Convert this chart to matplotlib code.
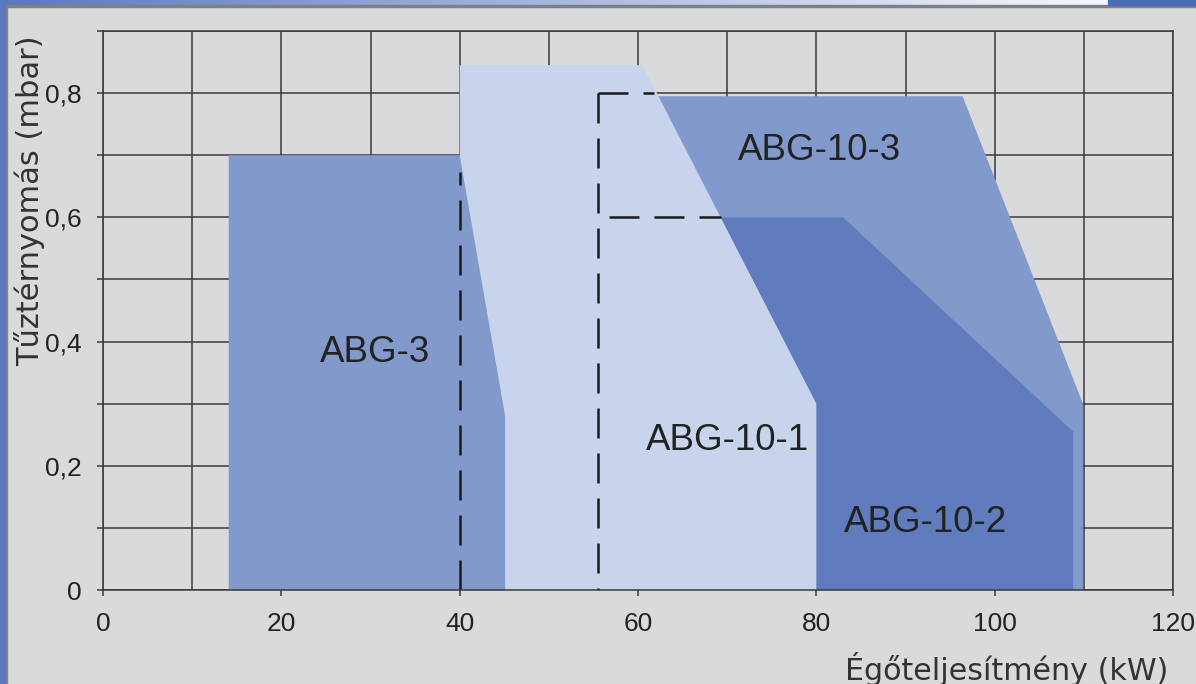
"""Burner working-field chart: ABG-3 / ABG-10-x operating ranges."""
import matplotlib
matplotlib.use("Agg")
import matplotlib.pyplot as plt
import numpy as np
from matplotlib.patches import Polygon, Rectangle
from matplotlib.ticker import FixedLocator, FuncFormatter

# Operating field outlines (kW, mbar)
abg3_x = [14.1, 14.1, 40.0, 45.1, 45.1]
abg3_y = [0.0, 0.70, 0.70, 0.28, 0.0]

abg101_x = [40.0, 40.0, 60.5, 80.0, 80.0]
abg101_y = [0.0, 0.845, 0.845, 0.30, 0.0]

abg102_x = [60.0, 60.0, 83.0, 108.8, 108.8]
abg102_y = [0.0, 0.60, 0.60, 0.255, 0.0]

abg103_x = [60.0, 60.0, 96.4, 109.9, 109.9]
abg103_y = [0.0, 0.795, 0.795, 0.30, 0.0]

# dashed reference lines
dash_lines = [
    ([40.0, 40.0], [0.0, 0.673]),
    ([55.5, 55.5], [0.8, 0.0]),
    ([55.5, 61.8], [0.8, 0.8]),
    ([56.75, 69.3], [0.6, 0.6]),
]

labels = ["ABG-3", "ABG-10-1", "ABG-10-3", "ABG-10-2"]
label_x = [30.5, 70.0, 80.4, 92.2]
label_y = [0.383, 0.24, 0.708, 0.108]

x_ticks = [0, 20, 40, 60, 80, 100, 120]
y_ticks = [0.0, 0.1, 0.2, 0.3, 0.4, 0.5, 0.6, 0.7, 0.8, 0.9]

BG = "#d9dadc"
LINE = "#3a3a3a"
LIGHT = "#c8d4ec"
MID = "#8299cc"
DARK = "#617cbc"


def ytick_fmt(v, _pos):
    k = int(round(v * 10))
    if k % 2:
        return ""
    if k == 0:
        return "0"
    return f"{v:.1f}".replace(".", ",")


fig = plt.figure(figsize=(11.96, 6.84), dpi=100, facecolor=BG)

# blue frame: gradient bar on top, solid strip on the left
W, H = 1196, 684
bar = fig.add_axes([0, 1 - 5 / H, 1108 / W, 5 / H])
grad = np.linspace(0, 1, 256)[None, :, None]
c0 = np.array([91, 120, 191]) / 255
c1 = np.array([245, 247, 252]) / 255
bar.imshow(c0 + (c1 - c0) * grad, aspect="auto", extent=[0, 1, 0, 1])
bar.axis("off")
fig.patches.append(Rectangle((1108 / W, 1 - 5 / H), 1 - 1108 / W, 5 / H,
                             transform=fig.transFigure, color="#4a6db8", zorder=5))
fig.patches.append(Rectangle((0, 1 - 7 / H), 1, 2 / H,
                             transform=fig.transFigure, color="#7f7f85", zorder=4))
fig.patches.append(Rectangle((0, 0), 5 / W, 1,
                             transform=fig.transFigure, color="#5b78bf", zorder=6))
fig.patches.append(Rectangle((5 / W, 0), 2 / W, 1 - 5 / H,
                             transform=fig.transFigure, color="#7f7f85", zorder=5))

ax = fig.add_axes([103 / W, 94 / H, 1070 / W, 559 / H])
ax.set_facecolor(BG)
ax.set_xlim(0, 120)
ax.set_ylim(0, 0.9)

# fields, back to front
for xs, ys, col in [(abg103_x, abg103_y, MID), (abg102_x, abg102_y, DARK),
                    (abg101_x, abg101_y, LIGHT), (abg3_x, abg3_y, MID)]:
    ax.add_patch(Polygon(np.column_stack([xs, ys]), closed=True,
                         facecolor=col, edgecolor="none", zorder=1))

for xs, ys in dash_lines:
    ax.plot(xs, ys, color="#1a1a1a", lw=1.8, linestyle=(0, (12, 6)),
            solid_capstyle="butt", dash_capstyle="butt", zorder=2)

for txt, tx, ty in zip(labels, label_x, label_y):
    ax.text(tx, ty, txt, ha="center", va="center", fontsize=26.5,
            family="Liberation Sans", color="#222222", zorder=3)

# grid and ticks
ax.set_axisbelow(True)
ax.xaxis.set_major_locator(FixedLocator(x_ticks))
ax.xaxis.set_minor_locator(FixedLocator([10, 30, 50, 70, 90, 110]))
ax.yaxis.set_major_locator(FixedLocator(y_ticks))
ax.yaxis.set_major_formatter(FuncFormatter(ytick_fmt))
ax.grid(True, which="both", color=LINE, lw=1.1)
ax.tick_params(axis="both", which="major", direction="out", length=4.5,
               width=1.1, color=LINE, labelsize=19, labelcolor="#222222",
               labelfontfamily="Liberation Sans")
ax.tick_params(axis="x", which="major", pad=11)
ax.tick_params(axis="y", which="major", pad=11)
ax.tick_params(axis="x", which="minor", length=0)
for sp in ax.spines.values():
    sp.set_color(LINE)
    sp.set_linewidth(1.1)

fig.text(30 / W, 1 - 201 / H, "Tűztérnyomás (mbar)", rotation=90,
         ha="center", va="center", fontsize=22, color="#333333")
fig.text(1168 / W, 4 / H, "Égőteljesítmény (kW)", ha="right",
         va="baseline", fontsize=21.7, color="#333333")

fig.savefig("out.png", dpi=100, facecolor=BG)
